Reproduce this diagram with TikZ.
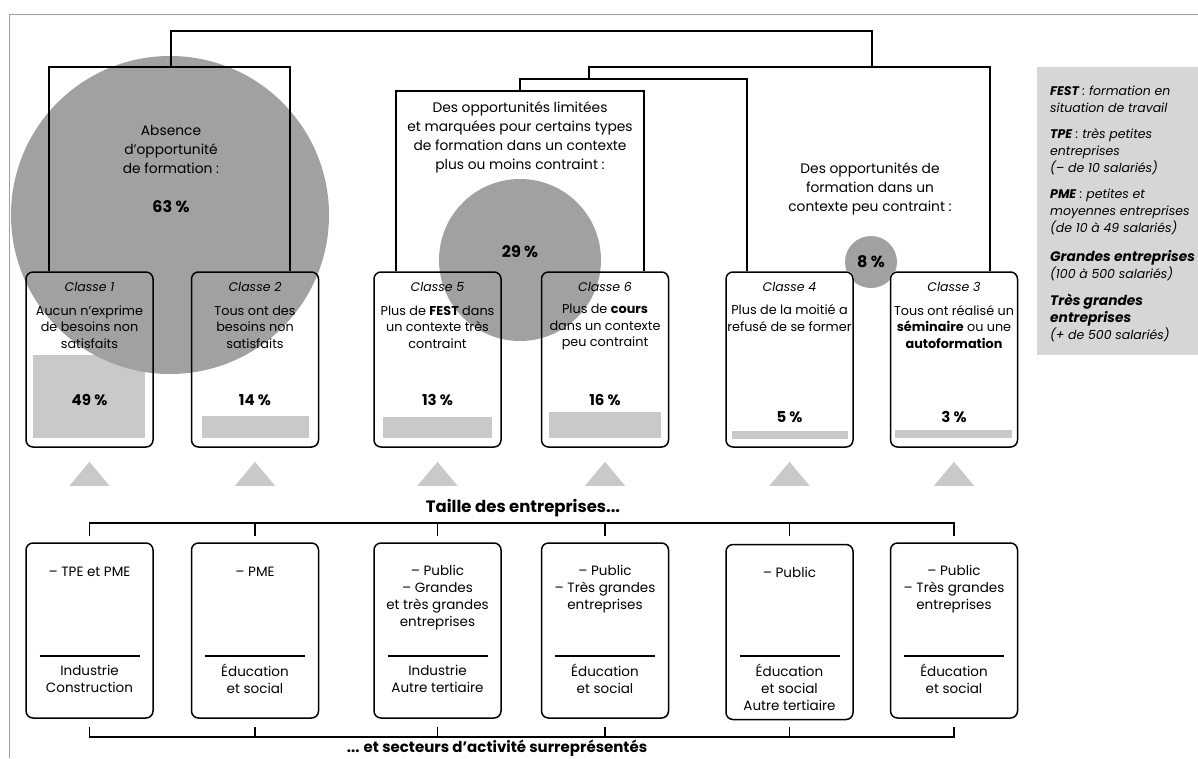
\documentclass[tikz,border=0pt]{standalone}
\usepackage{fontspec}
\setmainfont{Poppins}
\usetikzlibrary{backgrounds}
\definecolor{circ}{gray}{0.63}
\definecolor{barg}{gray}{0.79}
\definecolor{leg}{gray}{0.84}
\definecolor{frameg}{gray}{0.62}
\begin{document}
\begin{tikzpicture}[x=1pt,y=-1pt,
 ln/.style={line width=1.5pt,line join=miter},
 cbox/.style={draw,line width=1.5pt,rounded corners=7pt,minimum width=127pt,minimum height=175pt,inner sep=0pt},
 grp/.style={font=\fontsize{13.8}{19}\selectfont,align=center,inner sep=0pt},
 pct/.style={font=\bfseries\fontsize{16}{18}\selectfont,inner sep=0pt},
 ttl/.style={font=\itshape\fontsize{12.5}{16}\selectfont,inner sep=0pt},
 dsc/.style={font=\fontsize{12.8}{16.5}\selectfont,align=center,inner sep=0pt},
 bpct/.style={font=\bfseries\fontsize{15}{16}\selectfont,inner sep=0pt},
 btx/.style={font=\fontsize{13.5}{17}\selectfont,align=center,inner sep=0pt},
 lgt/.style={font=\itshape\fontsize{12.5}{17}\selectfont,align=left,anchor=west,inner sep=0pt},
 hd/.style={font=\bfseries\fontsize{16.5}{18}\selectfont,inner sep=0pt},
 hdb/.style={font=\bfseries\fontsize{15}{18}\selectfont,inner sep=0pt},
 sepl/.style={line width=2pt},
 tri/.style={fill=barg}]
\useasboundingbox (0,0) rectangle (1198,758);

% class boxes
\node[cbox] (c1) at (89.5,359.5) {};
\node[cbox] (c2) at (255,359.5) {};
\node[cbox] (c5) at (437.5,359.5) {};
\node[cbox] (c6) at (605,359.5) {};
\node[cbox] (c4) at (789.5,359.5) {};
\node[cbox] (c3) at (954,359.5) {};

\begin{pgfonlayer}{background}
\fill[white] (0,0) rectangle (1198,758);
\fill[circ] (871,262) circle[radius=26pt];
\foreach \n in {c1,c2,c5,c6,c4,c3}
  \fill[white,rounded corners=7pt] (\n.south west) rectangle (\n.north east);
\fill[barg] (33,355) rectangle (145,438);
\fill[barg] (202,416) rectangle (309,438);
\fill[barg] (383,417) rectangle (492,438);
\fill[barg] (549,412) rectangle (661,438);
\fill[barg] (732,431) rectangle (848,439);
\fill[barg] (895,430) rectangle (1012,438);
\fill[circ] (170,215) circle[radius=159pt];
\fill[circ] (520,260) circle[radius=81pt];
\end{pgfonlayer}

% frame
\draw[frameg,line width=1pt] (9,758) -- (9,14) -- (1198,14);

% tree
\coordinate (gL) at (171,31);
\coordinate (gR) at (872,31);
\coordinate (bL) at (171,67);
\coordinate (bR) at (872,67);
\coordinate (l1) at (49,67);
\coordinate (l2) at (290,67);
\coordinate (jM) at (589,67);
\coordinate (r2) at (990,67);
\coordinate (jM2) at (589,79);
\coordinate (jA) at (520,79);
\coordinate (jB) at (747,79);
\coordinate (jA2) at (520,91);
\coordinate (m1) at (396,91);
\coordinate (m2) at (644,91);
\draw[ln] (bL) -- (gL) -- (gR) -- (bR);
\draw[ln] (l1 |- c1.north) -- (l1) -- (l2) -- (l2 |- c2.north);
\draw[ln] (jM2) -- (jM) -- (r2) -- (r2 |- c3.north);
\draw[ln] (jA2) -- (jA) -- (jB) -- (jB |- c4.north);
\draw[ln] (m1 |- c5.north) -- (m1) -- (m2) -- (m2 |- c6.north);

% group texts
\node[grp] (tA) at (171,149) {Absence\\d’opportunité\\de formation :};
\node[pct] (pA) at (171,207) {63 \%};
\node[grp] (tM) at (520,137.5) {Des opportunités limitées\\et marquées pour certains types\\de formation dans un contexte\\plus ou moins contraint :};
\node[pct] (pM) at (520,252) {29 \%};
\node[grp] (tR) at (870,189) {Des opportunités de\\formation dans un\\contexte peu contraint :};
\node[pct] (pR) at (871,262) {8 \%};

% class texts
\node[ttl] (k1) at (89.5,287) {Classe 1};
\node[dsc] (e1) at (89.5,327) {Aucun n’exprime\\de besoins non\\satisfaits};
\node[bpct] (q1) at (89.5,400) {49 \%};
\node[ttl] (k2) at (255,287) {Classe 2};
\node[dsc] (e2) at (255,327) {Tous ont des\\besoins non\\satisfaits};
\node[bpct] (q2) at (255,400) {14 \%};
\node[ttl] (k5) at (437.5,287) {Classe 5};
\node[dsc] (e5) at (437.5,327) {Plus de \textbf{FEST} dans\\un contexte très\\contraint};
\node[bpct] (q5) at (437.5,400) {13 \%};
\node[ttl] (k6) at (605,287) {Classe 6};
\node[dsc] (e6) at (605,327) {Plus de \textbf{cours}\\dans un contexte\\peu contraint};
\node[bpct] (q6) at (605,400) {16 \%};
\node[ttl] (k4) at (789.5,287) {Classe 4};
\node[dsc] (e4) at (789.5,318) {Plus de la moitié a\\refusé de se former};
\node[bpct] (q4) at (789.5,417) {5 \%};
\node[ttl] (k3) at (954,287) {Classe 3};
\node[dsc] (e3) at (954,327) {Tous ont réalisé un\\\textbf{séminaire} ou une\\\textbf{autoformation}};
\node[bpct] (q3) at (954,417) {3 \%};

% triangles
\foreach \n in {c1,c2,c5,c6,c4,c3}
  \fill[tri] (\n.south) ++(-20,38) -- ++(40,0) -- ++(-20,-24) -- cycle;

% bottom boxes
\node[cbox] (d1) at (89.5,630.5) {};
\node[cbox] (d2) at (255,630.5) {};
\node[cbox] (d3) at (437.5,630.5) {};
\node[cbox] (d4) at (605,630.5) {};
\node[cbox] (d5) at (789.5,632) {};
\node[cbox] (d6) at (954,630.5) {};

\coordinate (tb) at (0,523);
\coordinate (tk) at (0,536);
\coordinate (bb) at (0,737);
\coordinate (bk) at (0,727);
\draw[ln] (d1.north |- tk) -- (d1.north |- tb) -- (d6.north |- tb) -- (d6.north |- tk);
\draw[ln] (d1.south |- bk) -- (d1.south |- bb) -- (d6.south |- bb) -- (d6.south |- bk);
\foreach \n in {d2,d3,d4,d5} {
  \draw[ln] (\n.north |- tb) -- (\n.north |- tk);
  \draw[ln] (\n.south |- bb) -- (\n.south |- bk);
}
\foreach \n in {d1,d2,d3,d4,d5,d6}
  \draw[sepl] (\n.center |- 0,656) ++(-50,0) -- ++(100,0);

\node[btx] (u1) at (89.5,572) {– TPE et PME};
\node[btx] (v1) at (89.5,678.5) {Industrie\\Construction};
\node[btx] (u2) at (255,572) {– PME};
\node[btx] (v2) at (255,678.5) {Éducation\\et social};
\node[btx] (u3) at (437.5,597.5) {– Public\\– Grandes\\et très grandes\\entreprises};
\node[btx] (v3) at (437.5,678.5) {Industrie\\Autre tertiaire};
\node[btx] (u4) at (605,589) {– Public\\– Très grandes\\entreprises};
\node[btx] (v4) at (605,678.5) {Éducation\\et social};
\node[btx] (u5) at (789.5,572) {– Public};
\node[btx] (v5) at (789.5,687) {Éducation\\et social\\Autre tertiaire};
\node[btx] (u6) at (954,589) {– Public\\– Très grandes\\entreprises};
\node[btx] (v6) at (954,678.5) {Éducation\\et social};

\node[hd] (h1) at (523,508) {Taille des entreprises...};
\node[hdb] (h2) at (497,748) {... et secteurs d’activité surreprésentés};

% legend
\node[fill=leg,minimum width=175pt,minimum height=288pt,anchor=north west,inner sep=0pt] (lg) at (1037,67) {};
\node[lgt] (g1) at (1050,99) {\textbf{FEST} : formation en\\situation de travail};
\node[lgt] (g2) at (1050,151.5) {\textbf{TPE} : très petites\\entreprises\\(– de 10 salariés)};
\node[lgt] (g3) at (1050,212) {\textbf{PME} : petites et\\moyennes entreprises\\(de 10 à 49 salariés)};
\node[lgt] (g4) at (1050,266) {{\fontsize{13.8}{17}\selectfont\bfseries Grandes entreprises}\\(100 à 500 salariés)};
\node[lgt] (g5) at (1050,317.5) {{\fontsize{13.8}{17}\selectfont\bfseries Très grandes}\\{\fontsize{13.8}{17}\selectfont\bfseries entreprises}\\(+ de 500 salariés)};
\end{tikzpicture}
\end{document}
